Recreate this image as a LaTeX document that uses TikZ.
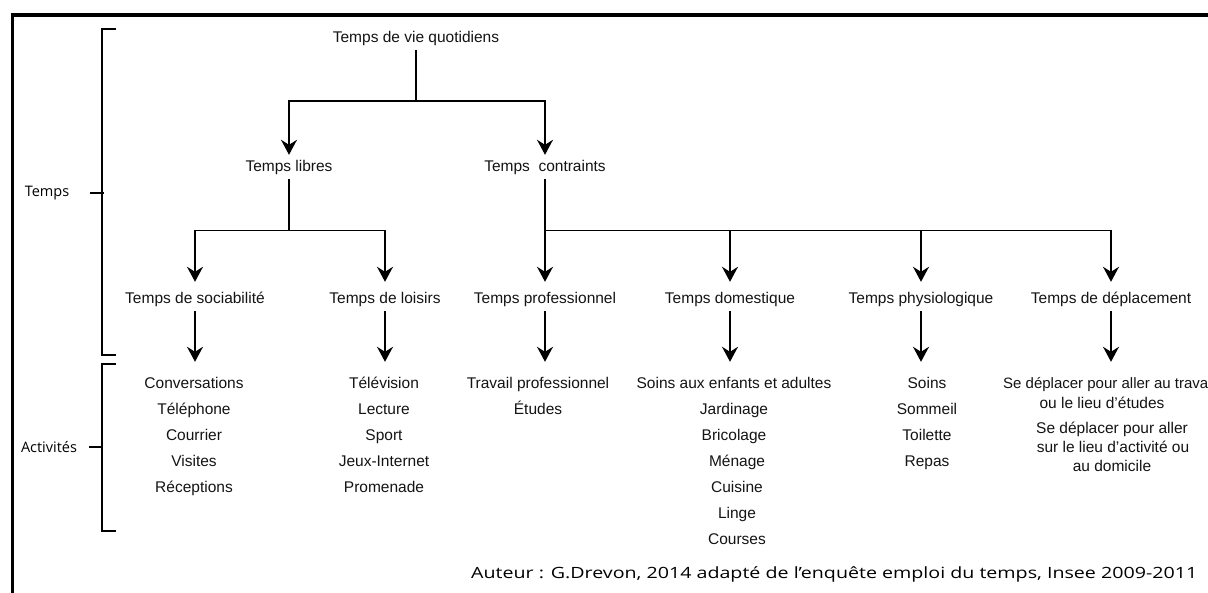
\documentclass[tikz,border=0pt]{standalone}
\usepackage{fontspec}
\setmainfont{Liberation Sans}
\newfontfamily\sidefont{Open Sans}
\usepackage{graphicx}
\usetikzlibrary{arrows.meta}
\begin{document}
\begin{tikzpicture}[x=1pt,y=-1pt,
  lab/.style={font=\fontsize{15.5}{18}\selectfont, text=black!92, inner xsep=0pt, inner ysep=4.5pt, text height=11.5pt, text depth=3.5pt},
  side/.style={font=\sidefont\fontsize{14.5}{17}\selectfont, text=black, inner sep=0pt},
  conn/.style={line width=1.8pt, black},
  arr/.style={conn, -{Stealth[length=15pt,width=16pt,inset=5pt]}},
  arrtwo/.style={arr, shorten >=5pt},
  arrthree/.style={arr, shorten >=10pt},
  brack/.style={line width=1.8pt, black},
  frame/.style={line width=3.2pt, black}
]
\useasboundingbox (0,0) rectangle (1208,592);
\fill[white] (0,0) rectangle (1208,592);
% frame
\draw[frame] (12.5,600) -- (12.5,15) -- (1215,15);

% side brackets
\node[side] (tps) at (47,193) {Temps};
\node[side] (act) at (49,447) {Activités};
\coordinate (bT1) at (116,29);
\coordinate (bT2) at (116,355);
\coordinate (bA1) at (116,364);
\coordinate (bA2) at (116,531);
\draw[brack] (bT1) -- ++(-14,0) |- (bT2);
\draw[brack] (bA1) -- ++(-14,0) |- (bA2);
\draw[brack] (tps.east) ++(21,0) -- ++(14,0);
\draw[brack] (act.east) ++(12,0) -- ++(14,0);

% tree
\node[lab] (root) at (416,38) {Temps de vie quotidiens};
\node[lab] (libres) at (289,167) {Temps libres};
\node[lab] (contr) at (545,167) {Temps\ \ contraints};
\coordinate (j0) at (416,101);
\draw[conn] (root) -- (j0);
\draw[arr] (j0) -| (libres);
\draw[arr] (j0) -| (contr);

\node[lab] (soc) at (195,299) {Temps de sociabilité};
\node[lab] (lois) at (385,299) {Temps de loisirs};
\node[lab] (prof) at (545,299) {Temps professionnel};
\node[lab] (dom) at (730,299) {Temps domestique};
\node[lab] (phys) at (921,299) {Temps physiologique};
\node[lab] (depl) at (1111,299) {Temps de déplacement};

\coordinate (j1) at (289,230.5);
\coordinate (j2) at (545,230.5);
\draw[conn] (libres) -- (j1);
\draw[arrtwo] (j1) -| (soc);
\draw[arrtwo] (j1) -| (lois);
\draw[arrtwo] (contr) -- (prof);
\draw[arrtwo] (j2) -| (dom);
\draw[arrtwo] (j2) -| (phys);
\draw[arrtwo] (j2) -| (depl);

% activity lists
\foreach \t [count=\i] in {Conversations,Téléphone,Courrier,Visites,Réceptions}
  \node[lab] (soc\i) at (194,{384+26*(\i-1)}) {\t};
\foreach \t [count=\i] in {Télévision,Lecture,Sport,Jeux-Internet,Promenade}
  \node[lab] (lois\i) at (384,{384+26*(\i-1)}) {\t};
\foreach \t [count=\i] in {Travail professionnel,Études}
  \node[lab] (prof\i) at (538,{384+26*(\i-1)}) {\t};
\foreach \t/\xx [count=\i] in {Soins aux enfants et adultes/734,Jardinage/734,Bricolage/734,Ménage/737,Cuisine/737,Linge/737,Courses/737}
  \node[lab] (dom\i) at (\xx,{384+26*(\i-1)}) {\t};
\foreach \t [count=\i] in {Soins,Sommeil,Toilette,Repas}
  \node[lab] (phys\i) at (927,{384+26*(\i-1)}) {\t};
\node[lab, anchor=west, font=\fontsize{15}{18}\selectfont] (depl1) at (1003,384) {Se déplacer pour aller au travail};
\node[lab] (depl2) at (1102,404) {ou le lieu d’études};
\node[lab] (depl3) at (1112,429) {Se déplacer pour aller};
\node[lab] (depl4) at (1113,448.5) {sur le lieu d’activité ou};
\node[lab] (depl5) at (1112,467.5) {au domicile};

\draw[arrthree] (soc) -- (soc |- soc1.north);
\draw[arrthree] (lois) -- (lois |- lois1.north);
\draw[arrthree] (prof) -- (prof |- prof1.north);
\draw[arrthree] (dom) -- (dom |- dom1.north);
\draw[arrthree] (phys) -- (phys |- phys1.north);
\draw[arrthree] (depl) -- (depl |- depl1.north);

% footer
\node[anchor=base west, inner sep=0pt] (foot) at (471,578.5)
  {\resizebox{726pt}{\height}{\sidefont\fontsize{15.5}{18}\selectfont Auteur : G.Drevon, 2014 adapté de l’enquête emploi du temps, Insee 2009-2011}};
\end{tikzpicture}
\end{document}
